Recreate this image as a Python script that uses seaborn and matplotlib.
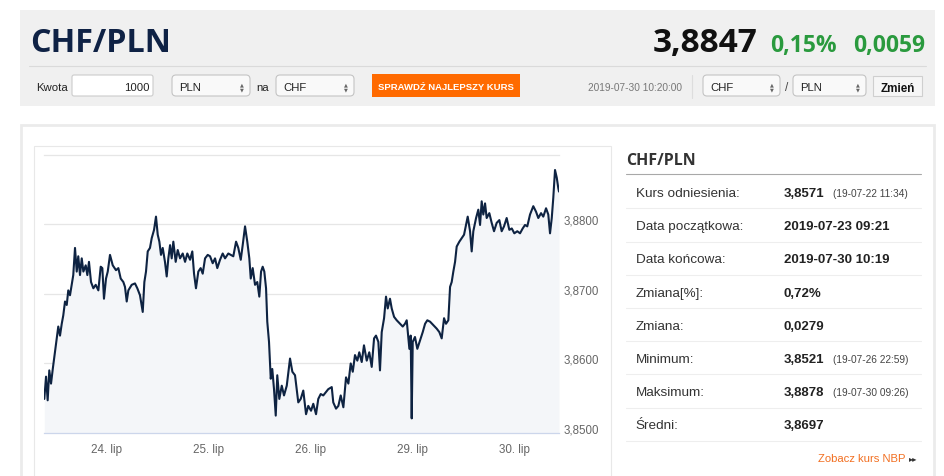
import matplotlib
matplotlib.use('Agg')
import matplotlib.pyplot as plt
import matplotlib.transforms as mtransforms
from matplotlib.patches import Rectangle, FancyBboxPatch
import seaborn as sns

# Notowania CHF/PLN: pozycja na osi dni handlowych (1 = 24 lip, ... 4 = 29 lip, 5 = 30 lip) i kurs
day_pos = [0.392, 0.409, 0.425, 0.441, 0.458, 0.475, 0.497, 0.514, 0.529, 0.546, 0.563, 0.578,
           0.595, 0.612, 0.627, 0.644, 0.661, 0.676, 0.693, 0.710, 0.725, 0.742, 0.759, 0.775,
           0.798, 0.814, 0.830, 0.850, 0.873, 0.896, 0.922, 0.945, 0.961, 0.977, 0.997,
           1.014, 1.036, 1.063, 1.095, 1.118, 1.141, 1.167, 1.183, 1.200, 1.216, 1.249, 1.281,
           1.304, 1.330, 1.357, 1.373, 1.389, 1.406, 1.428, 1.445, 1.468, 1.487, 1.504, 1.520,
           1.536, 1.553, 1.575, 1.592, 1.608, 1.625, 1.641, 1.657, 1.680, 1.700, 1.723, 1.749,
           1.772, 1.794, 1.821, 1.843, 1.860, 1.879, 1.902, 1.925, 1.945, 1.968, 1.994,
           2.017, 2.043, 2.066, 2.088, 2.115, 2.141, 2.164, 2.196, 2.220, 2.245, 2.272, 2.294,
           2.318, 2.337, 2.360, 2.382, 2.402, 2.416, 2.435, 2.458, 2.480, 2.500, 2.517, 2.533,
           2.549, 2.566, 2.578, 2.595, 2.612, 2.627, 2.644, 2.661, 2.676, 2.696, 2.720, 2.742,
           2.769, 2.801, 2.824, 2.850, 2.882, 2.906, 2.931, 2.958, 2.980,
           3.007, 3.029, 3.056, 3.078, 3.102, 3.127, 3.154, 3.176, 3.210, 3.225, 3.252, 3.275,
           3.298, 3.324, 3.350, 3.373, 3.396, 3.416, 3.438, 3.461, 3.480, 3.504, 3.526, 3.553,
           3.578, 3.602, 3.625, 3.644, 3.667, 3.683, 3.700, 3.723, 3.742, 3.759, 3.781, 3.798,
           3.821, 3.847, 3.879, 3.906, 3.928, 3.945, 3.961, 3.971, 3.984, 3.994,
           4.004, 4.026, 4.049, 4.075, 4.102, 4.125, 4.147, 4.174, 4.206, 4.239, 4.265, 4.288,
           4.311, 4.330, 4.353, 4.370, 4.386, 4.402, 4.419, 4.435, 4.461, 4.484, 4.507, 4.526,
           4.543, 4.566, 4.582, 4.598, 4.625, 4.647, 4.664, 4.680, 4.696, 4.713, 4.729, 4.755,
           4.778, 4.801, 4.827, 4.853, 4.876, 4.899, 4.925, 4.951, 4.975,
           5.000, 5.029, 5.056, 5.082, 5.105, 5.127, 5.154, 5.186, 5.213, 5.235, 5.262, 5.284,
           5.311, 5.333, 5.350, 5.367, 5.382, 5.399, 5.416, 5.431, 5.438]

kurs = [3.8549, 3.8581, 3.8547, 3.8590, 3.8571, 3.8592, 3.8617, 3.8636, 3.8653, 3.8640, 3.8657, 3.8669,
        3.8689, 3.8684, 3.8705, 3.8698, 3.8713, 3.8727, 3.8766, 3.8732, 3.8754, 3.8727, 3.8751, 3.8732,
        3.8741, 3.8727, 3.8746, 3.8717, 3.8708, 3.8713, 3.8705, 3.8739, 3.8737, 3.8693, 3.8722,
        3.8732, 3.8756, 3.8741, 3.8734, 3.8737, 3.8722, 3.8717, 3.8710, 3.8689, 3.8705, 3.8713, 3.8715,
        3.8708, 3.8698, 3.8674, 3.8717, 3.8732, 3.8761, 3.8766, 3.8780, 3.8792, 3.8811, 3.8785, 3.8775,
        3.8756, 3.8766, 3.8746, 3.8725, 3.8751, 3.8770, 3.8751, 3.8775, 3.8746, 3.8763, 3.8751, 3.8758,
        3.8746, 3.8758, 3.8749, 3.8761, 3.8729, 3.8708, 3.8732, 3.8737, 3.8729, 3.8751, 3.8756,
        3.8754, 3.8744, 3.8751, 3.8737, 3.8749, 3.8758, 3.8751, 3.8758, 3.8756, 3.8754, 3.8775, 3.8766,
        3.8749, 3.8770, 3.8797, 3.8775, 3.8751, 3.8722, 3.8737, 3.8713, 3.8717, 3.8696, 3.8732, 3.8739,
        3.8732, 3.8708, 3.8660, 3.8631, 3.8578, 3.8592, 3.8563, 3.8525, 3.8583, 3.8549, 3.8568, 3.8554,
        3.8568, 3.8607, 3.8588, 3.8583, 3.8544, 3.8549, 3.8561, 3.8527, 3.8539,
        3.8532, 3.8542, 3.8527, 3.8549, 3.8556, 3.8554, 3.8559, 3.8563, 3.8566, 3.8544, 3.8535, 3.8539,
        3.8554, 3.8537, 3.8580, 3.8571, 3.8600, 3.8588, 3.8612, 3.8604, 3.8616, 3.8602, 3.8626, 3.8604,
        3.8616, 3.8595, 3.8636, 3.8640, 3.8631, 3.8590, 3.8645, 3.8665, 3.8696, 3.8679, 3.8693, 3.8679,
        3.8667, 3.8662, 3.8657, 3.8653, 3.8657, 3.8662, 3.8636, 3.8621, 3.8640, 3.8521,
        3.8631, 3.8638, 3.8621, 3.8633, 3.8645, 3.8657, 3.8662, 3.8660, 3.8655, 3.8650, 3.8645, 3.8636,
        3.8665, 3.8657, 3.8662, 3.8710, 3.8717, 3.8732, 3.8746, 3.8768, 3.8775, 3.8780, 3.8785, 3.8799,
        3.8811, 3.8790, 3.8761, 3.8790, 3.8809, 3.8821, 3.8799, 3.8833, 3.8814, 3.8830, 3.8809, 3.8816,
        3.8802, 3.8790, 3.8802, 3.8806, 3.8790, 3.8797, 3.8809, 3.8792, 3.8794,
        3.8787, 3.8790, 3.8787, 3.8794, 3.8799, 3.8797, 3.8814, 3.8826, 3.8818, 3.8809, 3.8816, 3.8811,
        3.8823, 3.8814, 3.8787, 3.8809, 3.8838, 3.8878, 3.8867, 3.8852, 3.8847]

x_ticks = [1, 2, 3, 4, 5]
x_labels = ['24. lip', '25. lip', '26. lip', '29. lip', '30. lip']
y_ticks = [3.85, 3.86, 3.87, 3.88]
y_labels = ['3,8500', '3,8600', '3,8700', '3,8800']

# Tabela po prawej
tab_labels = ['Kurs odniesienia:', 'Data początkowa:', 'Data końcowa:', 'Zmiana[%]:',
              'Zmiana:', 'Minimum:', 'Maksimum:', 'Średni:']
tab_values = ['3,8571', '2019-07-23 09:21', '2019-07-30 10:19', '0,72%',
              '0,0279', '3,8521', '3,8878', '3,8697']
tab_notes = ['(19-07-22 11:34)', '', '', '', '', '(19-07-26 22:59)', '(19-07-30 09:26)', '']

sns.set_style('white')
plt.rcParams['font.family'] = ['Liberation Sans', 'DejaVu Sans']

W, H = 945, 477
fig = plt.figure(figsize=(W / 100, H / 100), dpi=100)

# tlo strony w pikselach
bg = fig.add_axes([0, 0, 1, 1], zorder=0)
bg.set_xlim(0, W)
bg.set_ylim(H, 0)
bg.axis('off')

OPEN = ['Open Sans', 'DejaVu Sans']

# naglowek
bg.add_patch(Rectangle((20, 11), 915, 96, fc='#f0f0f0', ec='none'))
bg.plot([29, 926], [66.7, 66.7], color='#dadada', lw=0.8)
bg.text(30, 52.5, 'CHF/PLN', family=OPEN, weight='bold', fontsize=23.2, color='#0f2245', va='baseline')
bg.text(757, 52, '3,8847', family=OPEN, weight='bold', fontsize=24, color='#111111', ha='right', va='baseline')
bg.text(837, 52, '0,15%', family=OPEN, weight='bold', fontsize=16.5, color='#2a9a3e', ha='right', va='baseline')
bg.text(925, 52, '0,0059', family=OPEN, weight='bold', fontsize=16.5, color='#2a9a3e', ha='right', va='baseline')


def select_box(x0, x1, txt):
    bg.add_patch(FancyBboxPatch((x0, 76), x1 - x0, 21, boxstyle='round,pad=0,rounding_size=4',
                                fc='#f9f9f9', ec='#c4c4c4', lw=0.8))
    bg.text(x0 + 7, 91, txt, fontsize=8.2, color='#222222', va='baseline')
    bg.text(x1 - 8, 84.5, '▲', family=['DejaVu Sans'], fontsize=3.6, color='#666666', ha='center', va='center')
    bg.text(x1 - 8, 89.5, '▼', family=['DejaVu Sans'], fontsize=3.6, color='#666666', ha='center', va='center')


bg.text(36, 91, 'Kwota', fontsize=8.2, color='#222222', va='baseline')
bg.add_patch(FancyBboxPatch((72, 76), 81, 21, boxstyle='round,pad=0,rounding_size=2',
                            fc='white', ec='#cccccc', lw=0.8))
bg.text(150, 91, '1000', fontsize=8.2, color='#222222', ha='right', va='baseline')
select_box(172, 250, 'PLN')
bg.text(256, 91, 'na', fontsize=8.2, color='#222222', va='baseline')
select_box(276, 354, 'CHF')
bg.add_patch(Rectangle((372, 75), 148, 23, fc='#ff6a00', ec='none'))
bg.text(446, 87, 'SPRAWDŹ NAJLEPSZY KURS', fontsize=6.8, weight='bold', color='white', ha='center', va='center')
bg.text(682, 91, '2019-07-30 10:20:00', fontsize=7.3, color='#777777', ha='right', va='baseline')
bg.plot([691.5, 691.5], [76, 99], color='#dddddd', lw=0.8)
select_box(703, 780, 'CHF')
bg.text(787, 91, '/', fontsize=8.5, color='#444444', ha='center', va='baseline')
select_box(793, 866, 'PLN')
bg.add_patch(Rectangle((873, 77), 49, 20, fc='#f6f6f6', ec='#cfcfcf', lw=0.8))
bg.text(897.5, 91.5, 'Zmień', fontsize=8.4, weight='bold', color='#111111', ha='center', va='baseline')

# panel z wykresem i tabela
bg.add_patch(Rectangle((21, 126), 913, 360, fc='white', ec='#ebebeb', lw=2))
bg.add_patch(Rectangle((34, 147), 577, 340, fc='white', ec='#e8e8e8', lw=0.8))

bg.text(626, 165, 'CHF/PLN', family=OPEN, weight='bold', fontsize=11.5, color='#333333', va='baseline')
bg.plot([625.5, 921], [175, 175], color='#a8a8a8', lw=0.8)
for i in range(len(tab_labels)):
    base = 197 + i * 33.2
    bg.text(635.5, base, tab_labels[i], fontsize=9.7, color='#333333', va='baseline')
    bg.text(784, base, tab_values[i], fontsize=9.5, weight='bold', color='#222222', va='baseline')
    if tab_notes[i]:
        bg.text(833, base, tab_notes[i], fontsize=7.3, color='#444444', va='baseline')
    sep = base + 12.3
    bg.plot([625.5, 921], [sep, sep], color='#eeeeee', lw=0.8)
bg.text(906, 462.5, 'Zobacz kurs NBP', fontsize=8.1, color='#f26f21', ha='right', va='baseline')
bg.text(909, 459, '▸▸', family=['DejaVu Sans'], fontsize=6, color='#333333', va='center')

# wykres
left, right, top, bottom = 44.3, 559, 155.7, 434
ax = fig.add_axes([left / W, 1 - bottom / H, (right - left) / W, (bottom - top) / H], zorder=2)
ax.set_facecolor('none')

ax.fill_between(day_pos, kurs, 3.85, color='#f4f6f9', lw=0)
sns.lineplot(x=day_pos, y=kurs, ax=ax, color='#0e2342', linewidth=1.5)

ax.set_xlim(day_pos[0], day_pos[-1])
ax.set_ylim(3.85, 3.89)
ax.set_xticks(x_ticks)
ax.set_xticklabels(x_labels)
ax.set_yticks(y_ticks)
ax.set_yticklabels(y_labels)
ax.yaxis.tick_right()
ax.yaxis.grid(True, color='#e6e6e6', linewidth=0.9)
ax.xaxis.grid(False)
ax.set_axisbelow(True)
ax.set_xlabel('')
ax.set_ylabel('')

for s in ['left', 'right']:
    ax.spines[s].set_visible(False)
ax.spines['top'].set_color('#e6e6e6')
ax.spines['top'].set_linewidth(0.9)
ax.spines['bottom'].set_color('#ccd6eb')
ax.spines['bottom'].set_linewidth(0.9)

ax.tick_params(axis='x', length=5.5, width=0.8, color='#ccd6eb', labelcolor='#666666',
               labelsize=8.4, pad=1.5)
ax.tick_params(axis='y', length=0, pad=3, labelcolor='#666666', labelsize=8.3)

# etykiety osi Y lekko nad liniami siatki
offset = mtransforms.ScaledTranslation(0, 5 / 100, fig.dpi_scale_trans)
for lab in ax.get_yticklabels():
    lab.set_transform(lab.get_transform() + offset)

fig.savefig('out.png', dpi=100)
